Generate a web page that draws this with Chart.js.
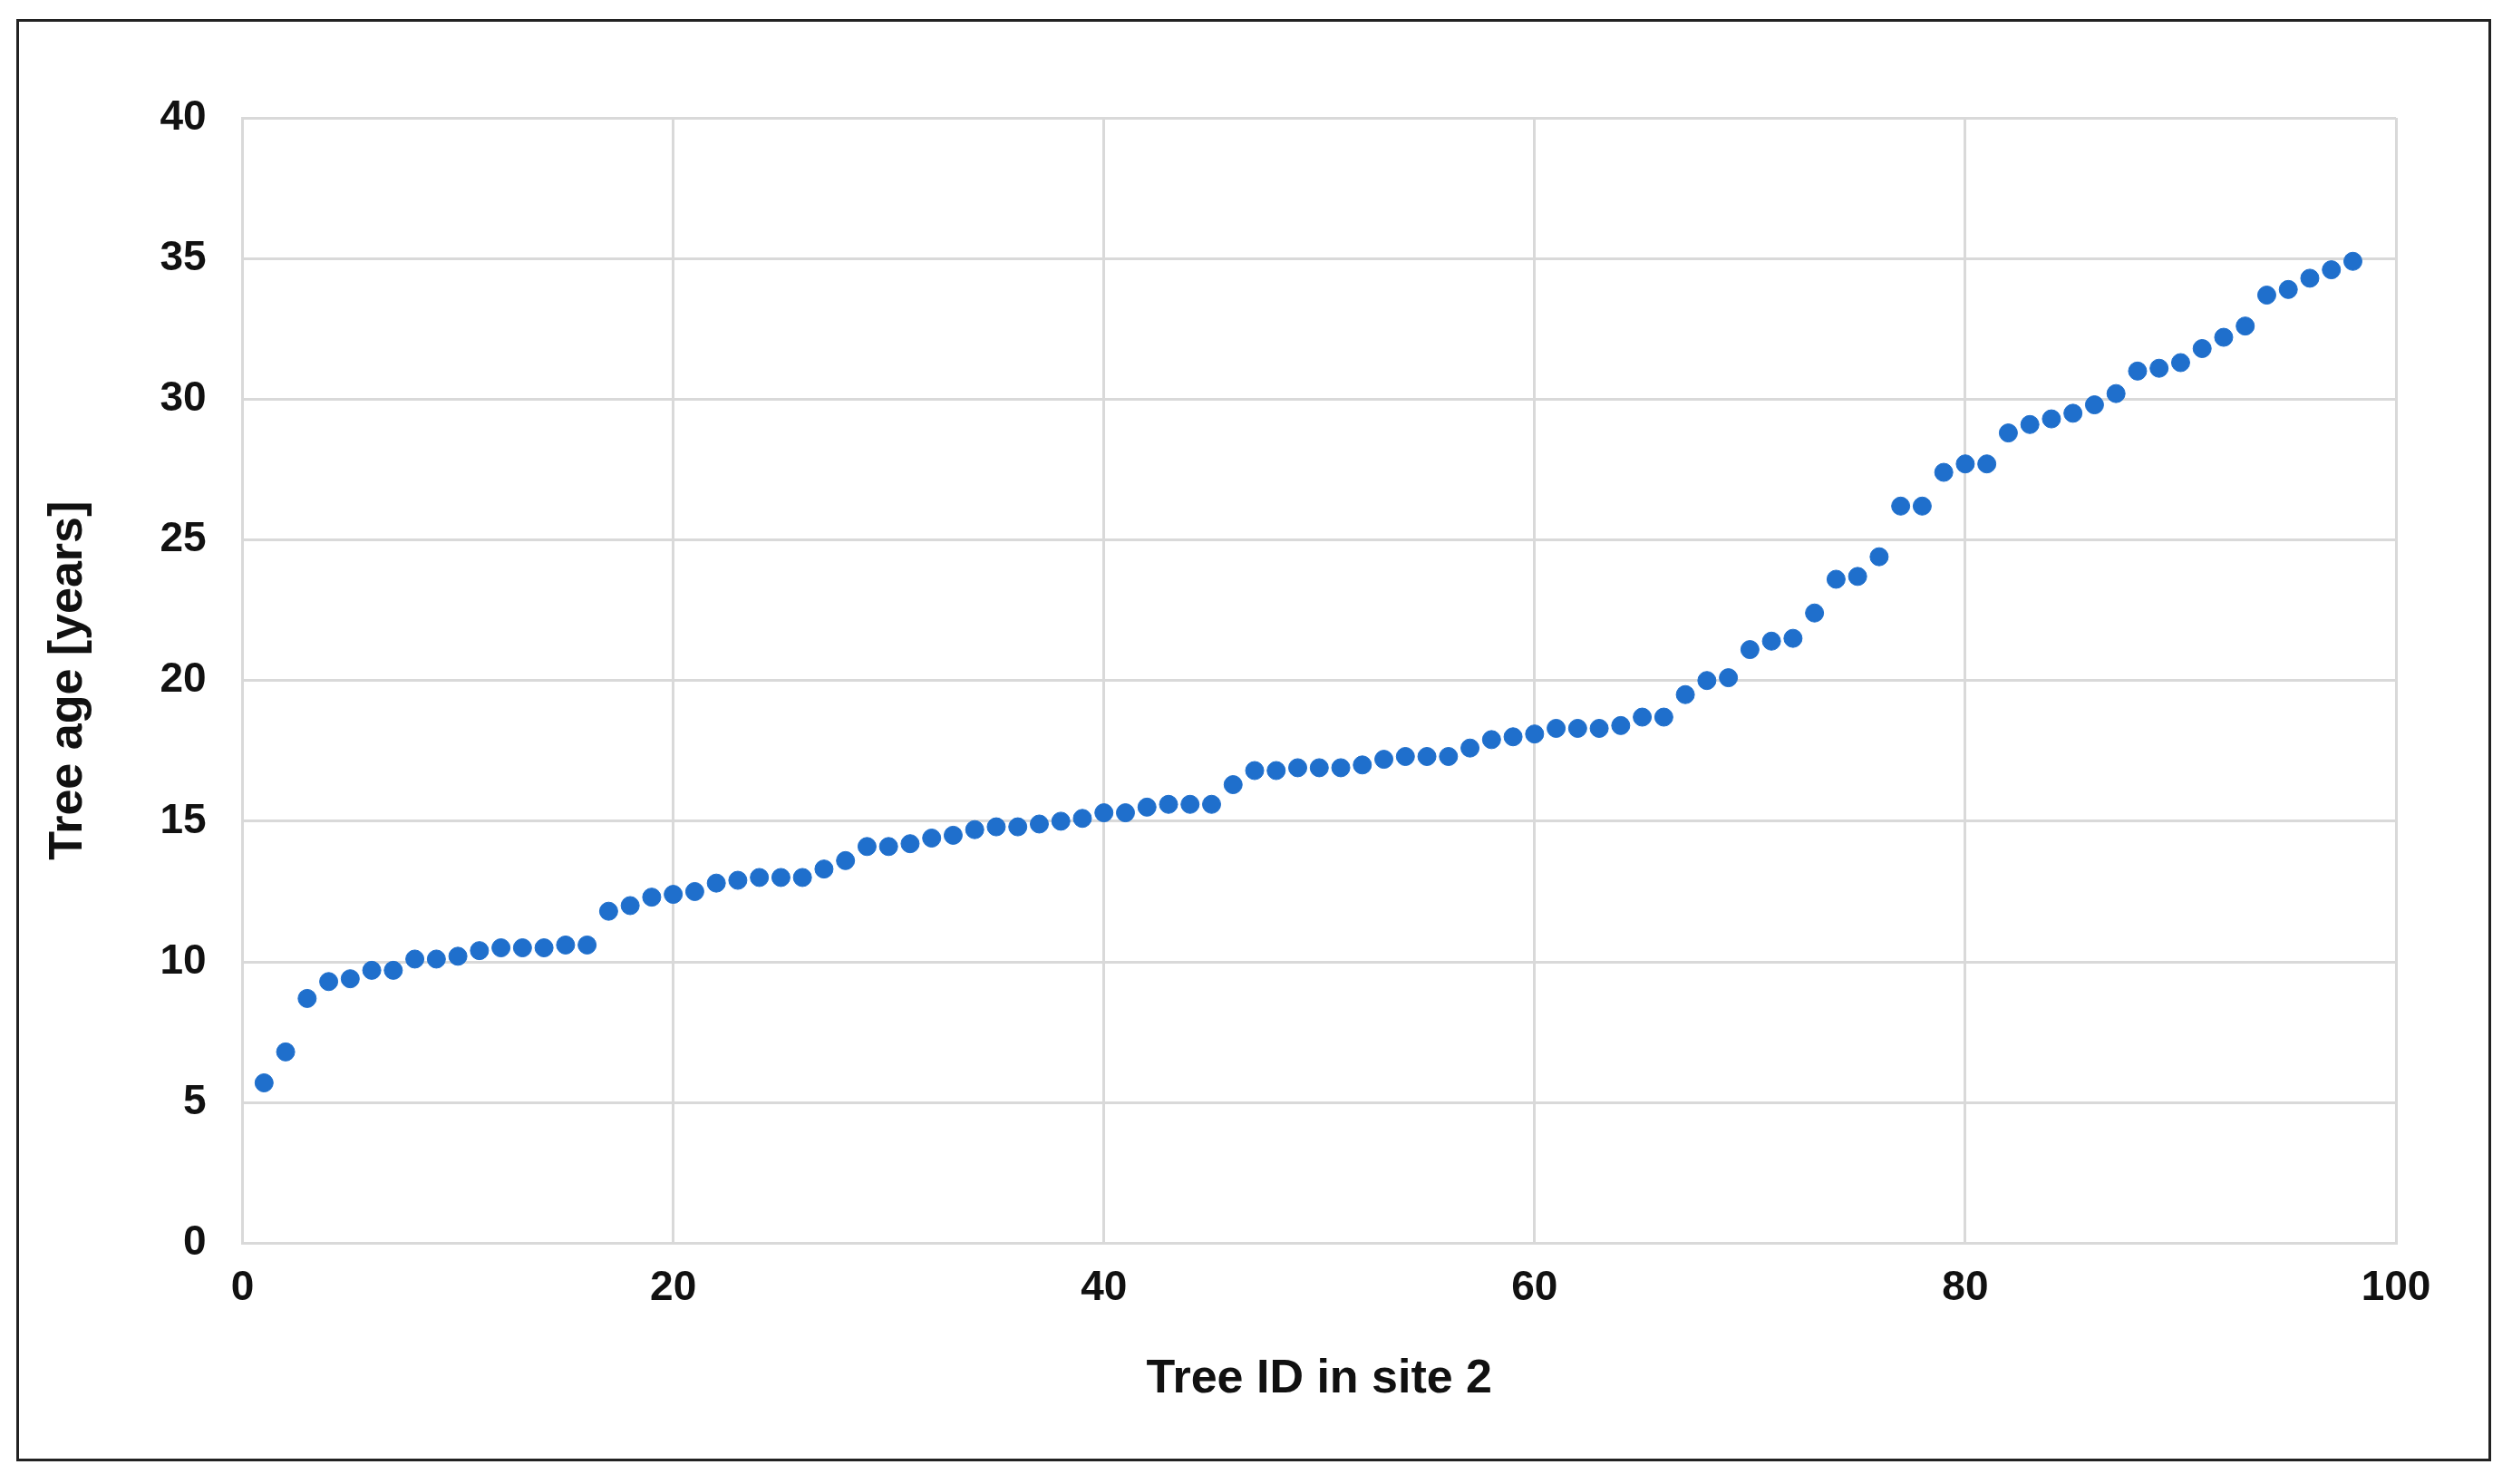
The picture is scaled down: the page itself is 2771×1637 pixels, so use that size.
<!DOCTYPE html>
<html><head><meta charset="utf-8">
<script src="https://cdn.jsdelivr.net/npm/chart.js@4"></script>
<style>
html,body{margin:0;padding:0;background:#fff;width:2771px;height:1637px;overflow:hidden}
#frame{position:absolute;left:18px;top:21px;width:2724px;height:1585px;border:3px solid #222}
#wrap{position:absolute;left:0;top:0;width:2771px;height:1637px}
</style></head><body>
<div id="frame"></div>
<div id="wrap"><canvas id="c" width="2771" height="1637"></canvas></div>
<script>
const treeIds = Array.from({length:98},(_,i)=>i+1);
const treeAges = [5.7,6.8,8.7,9.3,9.4,9.7,9.7,10.1,10.1,10.2,10.4,10.5,10.5,10.5,10.6,10.6,11.8,12.0,12.3,12.4,
12.5,12.8,12.9,13.0,13.0,13.0,13.3,13.6,14.1,14.1,14.2,14.4,14.5,14.7,14.8,14.8,14.9,15.0,15.1,15.3,
15.3,15.5,15.6,15.6,15.6,16.3,16.8,16.8,16.9,16.9,16.9,17.0,17.2,17.3,17.3,17.3,17.6,17.9,18.0,18.1,
18.3,18.3,18.3,18.4,18.7,18.7,19.5,20.0,20.1,21.1,21.4,21.5,22.4,23.6,23.7,24.4,26.2,26.2,27.4,27.7,
27.7,28.8,29.1,29.3,29.5,29.8,30.2,31.0,31.1,31.3,31.8,32.2,32.6,33.7,33.9,34.3,34.6,34.9];
const xTitle = "Tree ID in site 2";
const yTitle = "Tree age [years]";
const font = "'Liberation Sans', Arial, sans-serif";
new Chart(document.getElementById('c'), {
  type: 'scatter',
  data: { datasets: [{ data: treeIds.map((x,i)=>({x, y: treeAges[i]})),
    backgroundColor: '#1f6fcc', borderColor: '#1f6fcc', pointRadius: 10, pointHoverRadius: 10 }]},
  options: {
    responsive: false, animation: false, devicePixelRatio: 1,
    layout: { padding: { left: 40, top: 130, right: 128, bottom: 80 } },
    plugins: { legend: { display: false }, tooltip: { enabled: false } },
    scales: {
      x: { type: 'linear', min: 0, max: 100,
        ticks: { stepSize: 20, color: '#111', font: { family: font, size: 46, weight: 'bold' }, padding: 22 },
        grid: { color: '#d9d9d9', lineWidth: 3, drawTicks: false },
        border: { color: '#d9d9d9', width: 3 },
        title: { display: true, text: xTitle, color: '#111', font: { family: font, size: 52, weight: 'bold' }, padding: { top: 20 } } },
      y: { min: 0, max: 40,
        ticks: { stepSize: 5, color: '#111', font: { family: font, size: 46, weight: 'bold' }, padding: 40 },
        grid: { color: '#d9d9d9', lineWidth: 3, drawTicks: false },
        border: { color: '#d9d9d9', width: 3 },
        title: { display: true, text: yTitle, color: '#111', font: { family: font, size: 52, weight: 'bold' }, padding: { bottom: 30 } } }
    }
  }
});
</script></body></html>
